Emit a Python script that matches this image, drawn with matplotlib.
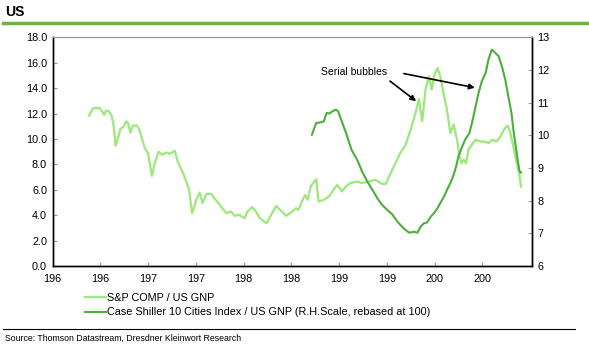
import matplotlib.pyplot as plt
from matplotlib.lines import Line2D

plt.rcParams['font.family'] = ['Liberation Sans', 'DejaVu Sans']

# S&P COMP / US GNP (left scale)
sp_year = [1963.8, 1964.25, 1964.9, 1965.1, 1965.4, 1965.6, 1965.9, 1966.2, 1966.4, 1966.6,
           1966.9, 1967.1, 1967.45, 1967.7, 1967.9, 1968.15, 1968.4, 1968.8, 1969.05, 1969.3,
           1969.65, 1970.0, 1970.4, 1970.7, 1971.1, 1971.5, 1971.9, 1972.3, 1972.8, 1973.1,
           1973.5, 1973.8, 1974.3, 1974.6, 1975.05, 1975.4, 1975.7, 1976.1, 1976.6, 1976.95,
           1977.5, 1978.2, 1978.7, 1979.05, 1979.55, 1980.1, 1980.4, 1980.9, 1981.3, 1981.7,
           1982.4, 1983.0, 1983.4, 1983.9, 1984.45, 1984.95, 1985.5, 1985.75, 1986.1, 1986.45,
           1986.7, 1987.05, 1987.6, 1987.85, 1988.4, 1988.95, 1989.3, 1989.8, 1990.3, 1990.7,
           1991.2, 1991.9, 1992.4, 1993.1, 1993.8, 1994.45, 1994.9, 1995.4, 1995.9, 1996.4,
           1996.95, 1997.65, 1998.0, 1998.35, 1998.7, 1999.05, 1999.4, 1999.7, 1999.95, 2000.3,
           2000.6, 2001.0, 2001.3, 2001.65, 2002.0, 2002.35, 2002.6, 2002.8, 2003.05, 2003.3,
           2003.55, 2003.9, 2004.3, 2004.8, 2005.2, 2005.65, 2006.05, 2006.5, 2006.9, 2007.3,
           2007.65, 2007.9, 2008.25, 2008.6, 2008.85, 2009.05]
sp_val = [11.84, 12.42, 12.45, 12.26, 11.9, 12.26, 12.18, 11.8, 11.0, 9.47,
          10.2, 10.8, 11.0, 11.4, 11.26, 10.5, 11.05, 11.07, 10.8, 10.2,
          9.29, 8.9, 7.1, 8.1, 9.0, 8.76, 8.94, 8.84, 9.08, 8.23,
          7.58, 7.05, 6.0, 4.16, 5.21, 5.79, 4.95, 5.68, 5.68, 5.34,
          4.81, 4.16, 4.29, 3.95, 4.03, 3.76, 4.29, 4.63, 4.29, 3.76,
          3.37, 4.16, 4.74, 4.37, 3.95, 4.21, 4.55, 4.42, 5.08, 5.6,
          5.21, 6.31, 6.84, 5.08, 5.21, 5.47, 5.87, 6.39, 5.87, 6.26,
          6.53, 6.66, 6.53, 6.66, 6.79, 6.47, 6.47, 7.32, 8.1, 8.9,
          9.5, 11.13, 12.05, 13.16, 11.4, 13.9, 14.94, 13.9, 14.94, 15.6,
          14.94, 13.36, 12.31, 10.47, 11.13, 9.95, 8.76, 8.1, 8.37, 8.1,
          9.16, 9.55, 9.95, 9.81, 9.81, 9.68, 9.95, 9.81, 10.2, 10.79,
          11.05, 10.6, 9.42, 8.1, 7.32, 6.26]

# Case Shiller 10 Cities Index / US GNP (right scale)
cs_year = [1987.15, 1987.6, 1988.05, 1988.4, 1988.7, 1989.0, 1989.3, 1989.65, 1989.9, 1990.35,
           1990.85, 1991.3, 1991.9, 1992.4, 1992.95, 1993.5, 1994.0, 1994.5, 1995.05, 1995.6,
           1996.1, 1996.8, 1997.35, 1997.85, 1998.2, 1998.55, 1998.9, 1999.2, 1999.6, 1999.95,
           2000.3, 2000.6, 2001.0, 2001.3, 2001.65, 2002.0, 2002.25, 2002.5, 2002.9, 2003.2,
           2003.65, 2003.95, 2004.3, 2004.6, 2004.95, 2005.35, 2005.65, 2006.0, 2006.35, 2006.7,
           2007.05, 2007.4, 2007.75, 2008.05, 2008.25, 2008.5, 2008.7, 2008.9, 2009.05]
cs_val = [10.02, 10.38, 10.4, 10.43, 10.69, 10.67, 10.74, 10.79, 10.74, 10.38,
          9.97, 9.56, 9.25, 8.9, 8.59, 8.33, 8.08, 7.87, 7.72, 7.57,
          7.36, 7.14, 7.02, 7.05, 7.02, 7.21, 7.31, 7.33, 7.51, 7.62,
          7.77, 7.93, 8.13, 8.33, 8.54, 8.79, 9.05, 9.36, 9.66, 9.87,
          10.07, 10.43, 10.89, 11.3, 11.66, 11.92, 12.33, 12.63, 12.53, 12.43,
          12.12, 11.71, 11.15, 10.69, 10.18, 9.66, 9.25, 8.9, 8.86]

tick_years = [1960, 1965, 1970, 1975, 1980, 1985, 1990, 1995, 2000, 2005]
tick_labels = ["196", "196", "197", "197", "198", "198", "199", "199", "200", "200"]

light = "#9de87c"
dark = "#4caf3a"

fig = plt.figure(figsize=(5.89, 3.51), dpi=100)
ax = fig.add_axes([0.0893, 0.2422, 0.8139, 0.651])
ax2 = ax.twinx()

l1, = ax.plot(sp_year, sp_val, color=light, lw=1.6, label="S&P COMP / US GNP")
l2, = ax2.plot(cs_year, cs_val, color=dark, lw=1.5,
               label="Case Shiller 10 Cities Index / US GNP (R.H.Scale, rebased at 100)")

ax.set_xlim(1960, 2010.2)
ax.set_ylim(0, 18)
ax2.set_ylim(6, 13)
ax.set_yticks([0, 2, 4, 6, 8, 10, 12, 14, 16, 18])
ax.set_yticklabels([f"{v:.1f}" for v in range(0, 19, 2)])
ax2.set_yticks(range(6, 14))
ax.set_xticks(tick_years)
ax.set_xticklabels(tick_labels)

for a in (ax, ax2):
    a.tick_params(direction="in", length=3, color="#999999", labelsize=7.8, pad=4)
    a.spines["top"].set_color("#999999")
    a.spines["top"].set_linewidth(0.8)
    for s in ("left", "right", "bottom"):
        a.spines[s].set_linewidth(1.0)
ax.tick_params(axis="x", pad=6)

ax.annotate("Serial bubbles", xy=(1998.3, 12.85), xytext=(1988.1, 15.3),
            fontsize=7.5, ha="left", va="center")
ax.annotate("", xy=(1998.3, 12.85), xytext=(1995.1, 14.7),
            arrowprops=dict(arrowstyle="-|>", color="black", lw=1.2, mutation_scale=8))
ax.annotate("", xy=(2004.5, 14.0), xytext=(1996.5, 15.2),
            arrowprops=dict(arrowstyle="-|>", color="black", lw=1.2, mutation_scale=8))

fig.legend(handles=[l1, l2], loc="upper left", bbox_to_anchor=(0.145, 0.165),
           frameon=False, fontsize=7.8, handlelength=1.9, handletextpad=0.05,
           labelspacing=0.4, borderpad=0, borderaxespad=0)

fig.text(0.009, 0.965, "US", fontsize=10, fontweight="bold", va="center")
fig.add_artist(Line2D([0.005, 1.0], [0.934, 0.934], color="#6db33f", lw=2.5))
fig.add_artist(Line2D([0.005, 0.977], [0.063, 0.063], color="black", lw=0.8))
fig.text(0.009, 0.037, "Source: Thomson Datastream, Dresdner Kleinwort Research",
         fontsize=6.3, va="center")

fig.savefig("out.png", dpi=100)
